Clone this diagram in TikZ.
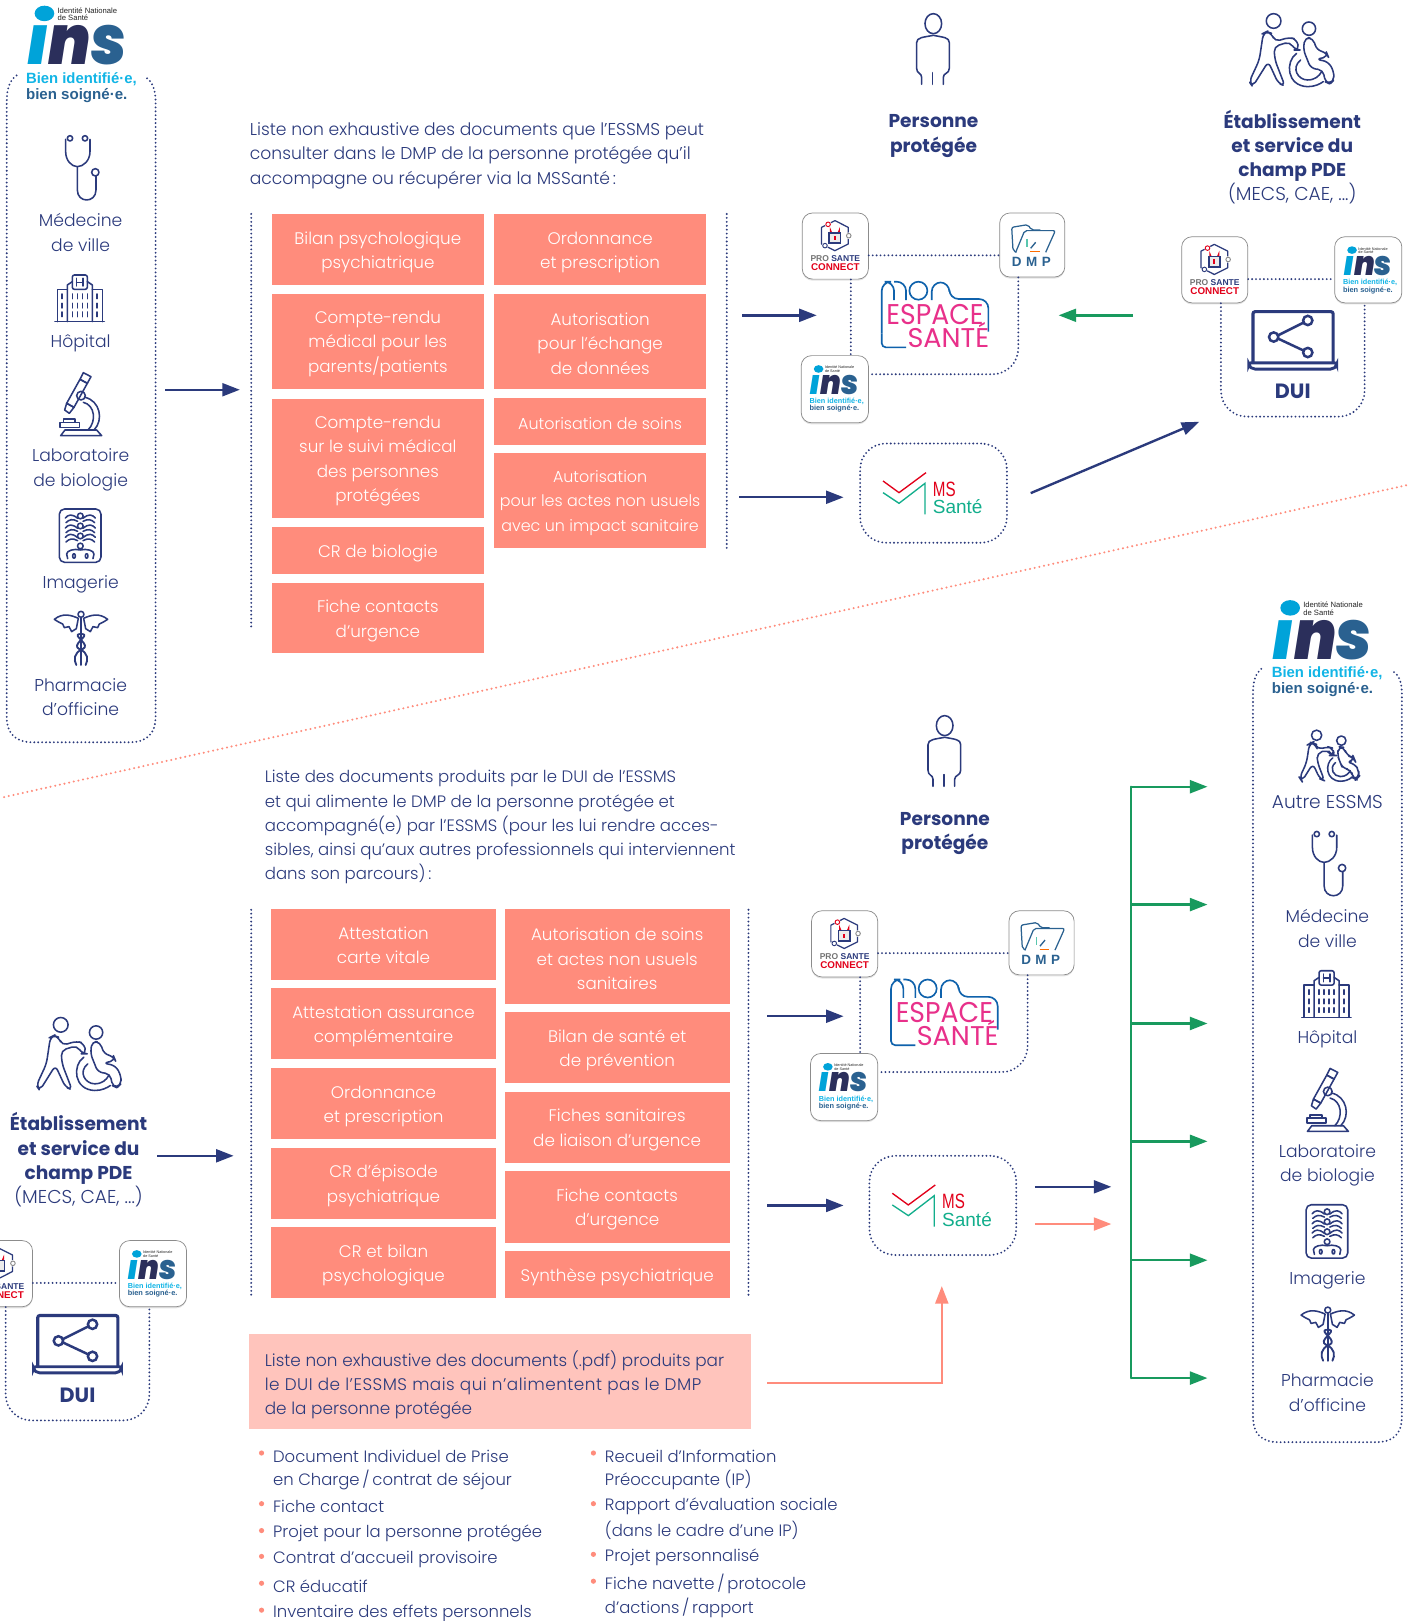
\documentclass[tikz,border=0pt]{standalone}
\usepackage{fontspec}
\setmainfont{Poppins}[UprightFont={* Light},BoldFont={* Bold},ItalicFont={* Light Italic},BoldItalicFont={* Bold Italic}]
\newfontfamily\libsans{Liberation Sans}
\newfontfamily\popreg{Poppins}
\newfontfamily\insf{Poppins}[UprightFont={* Black Italic}]
\usetikzlibrary{arrows.meta,shadows,calc}
\definecolor{navy}{HTML}{2B3A7C}
\definecolor{salmon}{HTML}{FF8C7C}
\definecolor{blush}{HTML}{FFC4BC}
\definecolor{vert}{HTML}{189A5E}
\definecolor{inscyan}{HTML}{00A3D9}
\definecolor{insbright}{HTML}{12B5E6}
\definecolor{insnavy}{HTML}{2B2F5B}
\definecolor{insblue}{HTML}{2A6190}
\definecolor{msred}{HTML}{E2001A}
\definecolor{msteal}{HTML}{12AE8C}
\definecolor{mespink}{HTML}{E8308A}
\definecolor{mesblue}{HTML}{0F62AC}
\newcommand\bodyf{\fontsize{16.6}{23.5}\selectfont}
\newcommand\boxf{\fontsize{16.2}{23.5}\selectfont}
\newcommand\boxsmall{\fontsize{15.4}{23.5}\selectfont}
\newcommand\listf{\fontsize{15.9}{23.5}\selectfont}
\newcommand\widef{\fontsize{18}{23.5}\selectfont}
\tikzset{
  dotline/.style={navy,line width=2pt,line cap=round,dash pattern=on 0pt off 3.8pt},
  reddots/.style={salmon,line width=2.2pt,line cap=round,dash pattern=on 0pt off 4.6pt},
  icon/.style={navy,line width=1.5pt,line join=round,line cap=round},
  txt/.style={inner sep=0pt,text=navy,font=\bodyf,yshift=-2.5pt},
  ctxt/.style={txt,align=center},
  ltxt/.style={txt,align=left,anchor=west},
  listtxt/.style={ltxt,font=\listf,yshift=1.2pt},
  btxt/.style={inner sep=0pt,text=navy,align=center,font=\fontsize{18}{23.5}\selectfont\bfseries,yshift=-2.5pt},
  docbox/.style={fill=salmon,inner sep=0pt},
  doctxt/.style={text=white,align=center,inner sep=0pt,font=\boxf,yshift=-2.5pt},
  card/.style={draw=black!45,line width=.7pt,fill=white,rounded corners=10pt,inner sep=0pt,minimum width=64pt,minimum height=64pt,drop shadow={shadow xshift=0pt,shadow yshift=-1.5pt,opacity=.22}},
  bluearrow/.style={navy,line width=2.3pt,-{Triangle[length=17pt,width=12.5pt]}},
  greenarrow/.style={vert,line width=2.3pt,-{Triangle[length=17pt,width=12.5pt]}},
  salmonarrow/.style={salmon,line width=2.3pt,-{Triangle[length=17pt,width=12.5pt]}},
  stetho/.pic={\begin{scope}[scale=.3224,icon]
    \draw (210,415) circle (8) (255,415) circle (8) (286,517) circle (11);
    \draw (197,418) -- (197,455) .. controls (197,482) and (215,500) .. (232,500) .. controls (250,500) and (270,482) .. (270,455) -- (270,418);
    \draw (232,500) -- (232,570) .. controls (232,610) and (288,610) .. (288,570) -- (288,528);
  \end{scope}},
  hosp/.pic={\begin{scope}[scale=.3224,icon]
    \draw[rounded corners=2pt] (217,825) rectangle (262,868);
    \draw (202,965) -- (202,855) -- (217,845) (262,845) -- (277,855) -- (277,965);
    \draw (202,868) -- (172,868) -- (172,965) (277,868) -- (307,868) -- (307,965);
    \draw (165,965) -- (313,965);
    \draw (230,835) -- (230,858) (249,835) -- (249,858) (230,847) -- (249,847);
    \foreach \yy in {882,910,936} {\foreach \xx in {186,217,232,247,262,291} {\draw (\xx,\yy) -- (\xx,\yy+14);}}
  \end{scope}},
  micro/.pic={\begin{scope}[scale=.3224,icon]
    \draw (250,8) -- (273,20) -- (262,40) -- (240,28) -- cycle;
    \draw (240,28) -- (262,40) -- (222,112) -- (200,100) -- cycle;
    \draw (200,100) -- (222,112) -- (208,130) -- (194,120) -- cycle;
    \draw (243,77) circle (13);
    \draw (255,82) .. controls (300,92) and (312,150) .. (282,180);
    \draw (250,97) .. controls (285,105) and (290,155) .. (264,180);
    \draw (180,157) rectangle (238,172) (190,147) rectangle (225,157);
    \draw (182,197) -- (195,180) -- (290,180) -- (305,197) -- cycle;
  \end{scope}},
  xray/.pic={\begin{scope}[scale=.3224,icon]
    \draw[rounded corners=5pt] (178,417) rectangle (303,577);
    \foreach \yy in {438,468,498,528} {\draw (241,\yy) circle (8.5);}
    \foreach \yy in {452,482,510} {
      \draw (233,\yy-7) .. controls (215,\yy-22) and (205,\yy-18) .. (196,\yy-8);
      \draw (249,\yy-7) .. controls (267,\yy-22) and (277,\yy-18) .. (286,\yy-8);
      \draw (233,\yy+2) .. controls (218,\yy-6) and (208,\yy-4) .. (198,\yy+6);
      \draw (249,\yy+2) .. controls (264,\yy-6) and (274,\yy-4) .. (284,\yy+6);}
    \draw (203,566) -- (200,552) .. controls (200,542) and (222,535) .. (241,540) .. controls (260,535) and (282,542) .. (282,552) -- (279,566);
    \draw (222,558) ellipse (4 and 7) (260,558) ellipse (4 and 7);
  \end{scope}},
  cadu/.pic={\begin{scope}[scale=.3224,icon]
    \draw (243,733) circle (9);
    \draw[line width=2pt] (243,743) -- (243,885);
    \foreach \s in {1,-1} {
      \draw ({243+\s*8},745) .. controls ({243+\s*30},735) and ({243+\s*55},728) .. ({243+\s*80},748)
        .. controls ({243+\s*70},755) and ({243+\s*60},760) .. ({243+\s*55},762) -- ({243+\s*50},773) -- ({243+\s*36},770) -- ({243+\s*28},785) -- ({243+\s*14},776) -- ({243+\s*8},745);
      \draw[line width=1.8pt] ({243+\s*4},792) .. controls ({243+\s*30},795) and ({243-\s*34},825) .. ({243-\s*4},838) .. controls ({243+\s*22},848) and ({243+\s*22},870) .. ({243+\s*14},885);
    }
  \end{scope}},
  person/.pic={\begin{scope}[scale=.3224,icon]
    \draw (160,71) ellipse (25 and 30);
    \draw (125,253) -- (125,232) .. controls (125,218) and (110,222) .. (110,205) -- (110,128) .. controls (110,112) and (130,112) .. (160,106) .. controls (190,112) and (208,112) .. (208,128) -- (208,205) .. controls (208,222) and (190,218) .. (190,232) -- (190,253);
    \draw (158,218) -- (158,253);
  \end{scope}},
  carer/.pic={\begin{scope}[icon]
    \draw (1181,63) circle (22) (1287,86) circle (20);
    \draw[rounded corners=5pt] (1160,95) -- (1150,100) -- (1138,180) -- (1108,245) -- (1118,260) -- (1165,185) -- (1195,250) -- (1215,258) -- (1185,180) -- (1182,140) -- (1230,125) -- (1245,150) -- (1258,150) -- (1250,118) -- (1228,112) -- (1185,125) -- (1175,100) -- cycle;
    \draw[rounded corners=5pt] (1275,112) -- (1270,150) -- (1282,178) -- (1292,205) -- (1330,210) -- (1335,245) -- (1350,252) -- (1362,240) -- (1362,215) -- (1345,185) -- (1308,178) -- (1345,170) -- (1340,158) -- (1310,150) -- (1300,115) -- cycle;
    \draw (1250,160) .. controls (1215,185) and (1220,258) .. (1283,260) .. controls (1305,260) and (1320,252) .. (1330,245);
    \draw (1262,180) .. controls (1232,205) and (1255,240) .. (1283,240) .. controls (1305,240) and (1318,228) .. (1325,215);
  \end{scope}},
  inslogo/.pic={
    \fill[inscyan] (18,8) ellipse (9.5 and 7.5);
    \node[inner sep=0pt,anchor=west,align=left,transform shape,text=black!85,font=\libsans\fontsize{7.4}{7.2}\selectfont] (natl) at (30.5,8.8) {Identité Nationale\\de Santé};
    \node[inner sep=0pt,anchor=north west,transform shape] (ins) at (0,19.5) {\resizebox{97pt}{38pt}{\insf\textcolor{inscyan}{ı}\textcolor{insnavy}{n}\textcolor{insblue}{s}}};
    \node[inner sep=0pt,anchor=west,transform shape,text=insbright] (l1) at (0,71.5) {\resizebox{107pt}{!}{\libsans\bfseries Bien identifié·e,}};
    \node[inner sep=0pt,anchor=west,transform shape,text=insblue] (l2) at (0,87) {\resizebox{98pt}{!}{\libsans\bfseries bien soigné·e.}};
  },
  psclogo/.pic={
    \draw[navy,line width=1.2pt,line join=round] (31.6,7.4) -- (44.5,13.9) -- (44.5,30) -- (31.6,36.5) -- (18.7,30) -- (18.7,13.9) -- cycle;
    \fill[white] (25,11) circle (3.2) (45,22) circle (3.2) (22,31.6) circle (3.2);
    \draw[msred,line width=.9pt] (25,11) circle (2.2);
    \draw[black!45,line width=.9pt] (45,22) circle (2.2);
    \draw[navy,line width=.9pt] (22,31.6) circle (2.2);
    \draw[msred,line width=1.4pt] (27.4,18.5) -- (27.4,17) arc[start angle=180,end angle=0,radius=4.2] -- (35.8,18.5);
    \draw[navy,line width=1.6pt,fill=black!8] (26.2,19.2) rectangle (37,29.2);
    \fill[msred] (30.8,22) rectangle (32.4,26.5);
    \node[inner sep=0pt,transform shape] (t1) at (32,44.5) {\resizebox{48pt}{!}{\libsans\bfseries\textcolor{black!55}{PRO }\textcolor{navy}{SANTE}}};
    \node[inner sep=0pt,transform shape] (t2) at (32,52.3) {\resizebox{47pt}{!}{\libsans\bfseries\textcolor{msred}{CONNECT}}};
  },
  dmplogo/.pic={\begin{scope}[scale=.3224,xshift=-600,yshift=37]
    \draw[insblue,line width=1.2pt,rounded corners=2pt] (650,155) -- (640,150) -- (636,80) -- (685,72) -- (695,88) -- (722,88);
    \draw[insblue,line width=1.2pt,rounded corners=2pt] (648,155) -- (675,90) -- (767,90) -- (738,155);
    \draw[msteal!70,line width=1.3pt] (682,115) -- (682,140);
    \draw[insblue,line width=1.3pt] (693,143) -- (708,125);
    \draw[orange!85!red,line width=1.5pt] (692,153) -- (720,153);
    \node[inner sep=0pt,text=insblue] (dm) at (695,183) {\libsans\bfseries\fontsize{13}{13}\selectfont D\,\,M\,\,P};
  \end{scope}},
  meslogo/.pic={\begin{scope}[scale=.3224]
    \draw[mesblue,line width=1.6pt,rounded corners=4pt] (318,442) -- (245,442) -- (245,400);
    \draw[mesblue,line width=1.6pt,rounded corners=9pt] (245,400) -- (245,245) -- (282,245) -- (282,300);
    \draw[mesblue,line width=1.6pt,rounded corners=9pt] (282,245) -- (318,245) -- (318,300);
    \draw[mesblue,line width=1.6pt] (355,272) ellipse (27 and 27);
    \draw[mesblue,line width=1.6pt,rounded corners=9pt] (395,300) -- (395,247) -- (448,247) -- (448,297) -- (565,297) -- (565,395);
    \node[inner sep=0pt,text=mespink] (es) at (405,344) {\resizebox{94pt}{19.5pt}{\popreg ESPACE}};
    \node[inner sep=0pt,anchor=south,text=mespink] (sa) at (445,443) {\resizebox{79pt}{!}{\popreg SANTÉ}};
  \end{scope}},
  mslogo/.pic={\begin{scope}[scale=.3224]
    \draw[msred,line width=1.3pt] (457,190) -- (505,225) -- (586,165);
    \draw[msteal,line width=1.3pt] (457,225) -- (505,257) -- (583,197) -- (583,290);
    \node[inner sep=0pt,anchor=south west,text=msred] (ms) at (606,238) {\resizebox{22pt}{14pt}{\libsans MS}};
    \node[inner sep=0pt,anchor=south west,text=msteal] (sn) at (606,290) {\resizebox{48pt}{!}{\libsans Santé}};
  \end{scope}},
  lapdui/.pic={
    \draw[navy,line width=3pt,rounded corners=2pt] (1212,352) -- (1212,301.5) -- (1289.5,301.5) -- (1289.5,352);
    \draw[navy,line width=2.8pt,rounded corners=2pt] (1208,351) -- (1293,351) -- (1293,354) -- (1289,357) -- (1212,357) -- (1208,354) -- cycle;
    \draw[navy,line width=2.4pt] (1233,326) -- (1265,310) (1233,326) -- (1265,341);
    \draw[navy,line width=2.4pt,fill=white] (1232,326) circle (4.5) (1265,310) circle (4.5) (1265,341) circle (4.5);
    \node[inner sep=0pt,text=navy,font=\fontsize{20}{22}\selectfont\bfseries] (dl) at (1250.5,379) {DUI};
  },
}
% --- helpers
\newcommand\dbox[6]{\node[docbox,minimum width={(#4-#2)*1pt},minimum height={(#5-#3)*1pt}] (#1) at ({(#2+#4)/2},{(#3+#5)/2}) {}; \node[doctxt] (#1t) at (#1) {#6};}
\newcommand\arrw[6]{\coordinate (#1s) at (#3,#4); \coordinate (#1e) at (#5,#6); \draw[#2] (#1s) -- (#1e);}
\newcommand\bul[4]{\fill[salmon] (#2-11,#3-1.5) circle (2.5); \node[listtxt] (#1) at (#2,#3) {#4};}
\newcommand\espacegroup[1]{%
  \node[card] (psc#1) at (808,238) {};
  \node[card,minimum width=63pt,minimum height=62pt] (dmp#1) at (998.5,237) {};
  \node[card,minimum width=65pt,minimum height=65pt] (ins#1) at (807.5,376.5) {};
  \pic (pp#1) at (776,206) {psclogo};
  \pic (pd#1) at (967,206) {dmplogo};
  \pic[scale=.49] (pi#1) at (783,353) {inslogo};
  \pic (pm#1) at (773.9,193.5) {meslogo};
  \draw[dotline] ([yshift=-9pt]psc#1.east) -- ([yshift=-10pt]dmp#1.west);
  \draw[dotline] ([xshift=15pt]psc#1.south) -- ([xshift=15.5pt]ins#1.north);
  \draw[dotline,rounded corners=25pt] ([xshift=-13.5pt]dmp#1.south) -- (985,362) -- ([yshift=14.5pt]ins#1.east);
}
\newcommand\duigroup[1]{%
  \node[card] (pscd#1) at (1175,261) {};
  \node[card,minimum width=65pt] (insd#1) at (1323.5,261) {};
  \pic (ppd#1) at (1143,229) {psclogo};
  \pic[scale=.49] (pid#1) at (1299,238) {inslogo};
  \pic (pl#1) at (0,0) {lapdui};
  \draw[dotline] ([yshift=-9pt]pscd#1.east) -- ([yshift=-9pt]insd#1.west);
  \draw[dotline,rounded corners=25pt] ([xshift=6pt]pscd#1.south) -- (1181,403) -- (1320,403) -- ([xshift=-3.5pt]insd#1.south);
}
\newcommand\careicons[1]{%
  \pic (st#1) at (0,0) {stetho};
  \node[ctxt] (med#1) at (78,222.5) {Médecine\\de ville};
  \pic (ho#1) at (0,0) {hosp};
  \node[ctxt] (hop#1) at (78,330) {Hôpital};
  \pic (mi#1) at (0,357.9) {micro};
  \node[ctxt] (lab#1) at (78,452) {Laboratoire\\de biologie};
  \pic (xr#1) at (0,357.9) {xray};
  \node[ctxt] (ima#1) at (78,563) {Imagerie};
  \pic (ca#1) at (0,357.9) {cadu};
  \node[ctxt] (pha#1) at (78,671.5) {Pharmacie\\d’officine};
}
\begin{document}
\begin{tikzpicture}[x=1pt,y=-1pt]
\clip (0,0) rectangle (1366.8,1568);
\fill[white] (0,0) rectangle (1366.8,1568);
% diagonal
\coordinate (dgA) at (4,771); \coordinate (dgB) at (1362,469);
\draw[reddots] (dgA) -- (dgB);
% left panel
\draw[dotline] (16,73) .. controls (10,77) and (6.5,85) .. (6.5,98) -- (6.5,693) .. controls (6.5,710) and (15,718) .. (32,718) -- (125,718) .. controls (142,718) and (150.5,710) .. (150.5,693) -- (150.5,98) .. controls (150.5,86) and (147,79) .. (141.5,75);
\pic (insL) at (25,5) {inslogo};
\careicons{L}
% right panel
\draw[dotline] (1220,647) .. controls (1215,651) and (1212,658) .. (1212,670) -- (1212,1370) .. controls (1212,1387) and (1220,1395) .. (1237,1395) -- (1331,1395) .. controls (1348,1395) and (1356,1387) .. (1356,1370) -- (1356,670) .. controls (1356,658) and (1352,652) .. (1347,649);
\pic (insR) at (1230,580) {inslogo};
\pic[scale=.2257] (carR) at (1007,697) {carer};
\node[ctxt,font=\widef] (autre) at (1284,773) {Autre ESSMS};
\begin{scope}[shift={(1206,673)}]
\careicons{R}
\end{scope}
% top section
\node[ltxt] (intro1) at (241.5,148) {Liste non exhaustive des documents que l’ESSMS peut\\consulter dans le DMP de la personne protégée qu’il\\accompagne ou récupérer via la MSSanté\,:};
\coordinate (v1a) at (243,207); \coordinate (v1b) at (243,607); \draw[dotline] (v1a) -- (v1b);
\coordinate (v2a) at (703,207); \coordinate (v2b) at (703,530); \draw[dotline] (v2a) -- (v2b);
\dbox{a1}{263}{207}{468}{276}{Bilan psychologique\\psychiatrique}
\dbox{a2}{263}{284}{468}{376}{Compte-rendu\\médical pour les\\parents/patients}
\dbox{a3}{263}{386}{468}{501}{Compte-rendu\\sur le suivi médical\\des personnes\\protégées}
\dbox{a4}{263}{510}{468}{555}{CR de biologie}
\dbox{a5}{263}{564}{468}{632}{Fiche contacts\\d’urgence}
\dbox{b1}{478}{207}{683}{276}{Ordonnance\\et prescription}
\dbox{b2}{478}{284}{683}{376}{Autorisation\\pour l’échange\\de données}
\begin{scope}[doctxt/.append style={font=\boxsmall}]
\dbox{b3}{478}{385}{683}{430}{Autorisation de soins}
\dbox{b4}{478}{438}{683}{530}{Autorisation\\pour les actes non usuels\\avec un impact sanitaire}
\end{scope}
\pic (per1) at (851.2,0) {person};
\node[btxt] (pp1) at (903,129) {Personne\\protégée};
\pic[scale=.3224] (car1) at (851.2,0) {carer};
\node[btxt] (et1) at (1250,138.5) {Établissement\\et service du\\champ PDE};
\node[ctxt,font=\widef] (me1) at (1250,185) {(MECS, CAE, ...)};
\espacegroup{T}
\duigroup{T}
\node[dotline,draw,rounded corners=25pt,minimum width=142pt,minimum height=96pt,inner sep=0pt] (msT) at (903,477) {};
\pic (mlT) at (706.8,404) {mslogo};
\arrw{t1}{bluearrow}{160}{377}{232}{377}
\arrw{t2}{bluearrow}{718}{305}{790}{305}
\arrw{t3}{greenarrow}{1096}{305}{1024}{305}
\arrw{t4}{bluearrow}{715}{481}{816}{481}
\arrw{t5}{bluearrow}{997}{477}{1160}{408}
% bottom section
\node[ltxt,font=\fontsize{16}{23.3}\selectfont] (intro2) at (256,797.5) {Liste des documents produits par le DUI de l’ESSMS\\et qui alimente le DMP de la personne protégée et\\accompagné(e) par l’ESSMS (pour les lui rendre acces-\\sibles, ainsi qu’aux autres professionnels qui interviennent\\dans son parcours)\,:};
\coordinate (v3a) at (243,880); \coordinate (v3b) at (243,1256); \draw[dotline] (v3a) -- (v3b);
\coordinate (v4a) at (724,880); \coordinate (v4b) at (724,1256); \draw[dotline] (v4a) -- (v4b);
\begin{scope}[doctxt/.append style={yshift=1.5pt}]
\dbox{c1}{262}{879}{480}{948}{Attestation\\carte vitale}
\end{scope}
\dbox{c2}{262}{956}{480}{1024}{Attestation assurance\\complémentaire}
\dbox{c3}{262}{1033}{480}{1102}{Ordonnance\\et prescription}
\dbox{c4}{262}{1110}{480}{1179}{CR d’épisode\\psychiatrique}
\dbox{c5}{262}{1187}{480}{1256}{CR et bilan\\psychologique}
\dbox{d1}{488}{879}{706}{971}{Autorisation de soins\\et actes non usuels\\sanitaires}
\dbox{d2}{488}{979}{706}{1048}{Bilan de santé et\\de prévention}
\dbox{d3}{488}{1056}{706}{1125}{Fiches sanitaires\\de liaison d’urgence}
\dbox{d4}{488}{1133}{706}{1202}{Fiche contacts\\d’urgence}
\dbox{d5}{488}{1210}{706}{1256}{Synthèse psychiatrique}
\node[fill=blush,minimum width=485pt,minimum height=92pt,inner sep=0pt] (pk) at (483.5,1336) {};
\node[ltxt,font=\fontsize{16.3}{23.5}\selectfont] (pkt) at (256,1337) {Liste non exhaustive des documents (.pdf) produits par\\{\addfontfeature{LetterSpace=3}le DUI de l’ESSMS mais qui n’alimentent pas le DMP}\\de la personne protégée};
\bul{l1}{264}{1407}{Document Individuel de Prise}
\node[listtxt] (l1b) at (264,1430) {en Charge\,/\,contrat de séjour};
\bul{l2}{264}{1456}{Fiche contact}
\bul{l3}{264}{1482}{Projet pour la personne protégée}
\bul{l4}{264}{1507}{Contrat d’accueil provisoire}
\bul{l5}{264}{1533}{CR éducatif}
\bul{l6}{264}{1559}{Inventaire des effets personnels}
\bul{r1}{585}{1407}{Recueil d’Information}
\node[listtxt] (r1b) at (585,1430) {Préoccupante (IP)};
\bul{r2}{585}{1456}{Rapport d’évaluation sociale}
\node[listtxt] (r2b) at (585,1479) {(dans le cadre d’une IP)};
\bul{r3}{585}{1505}{Projet personnalisé}
\bul{r4}{585}{1531}{Fiche navette\,/\,protocole}
\node[listtxt] (r4b) at (585,1554) {d’actions\,/\,rapport};
\pic (per2) at (862.2,679) {person};
\node[btxt] (pp2) at (914,804) {Personne\\protégée};
\pic[scale=.3224] (car2) at (-322,971) {carer};
\node[btxt] (et2) at (76,1108.5) {Établissement\\et service du\\champ PDE};
\node[ctxt,font=\widef] (me2) at (76,1155) {(MECS, CAE, ...)};
\begin{scope}[shift={(9,675)}]
\espacegroup{B}
\end{scope}
\begin{scope}[shift={(-1175.5,971)}]
\duigroup{B}
\end{scope}
\node[dotline,draw,rounded corners=25pt,minimum width=142pt,minimum height=96pt,inner sep=0pt] (msB) at (912,1166) {};
\pic (mlB) at (715.8,1093) {mslogo};
\arrw{u1}{bluearrow}{152}{1118}{226}{1118}
\arrw{u2}{bluearrow}{742}{983}{816}{983}
\arrw{u3}{bluearrow}{742}{1166}{816}{1166}
\arrw{u4}{bluearrow}{1001}{1148}{1075}{1148}
\arrw{u5}{salmonarrow}{1001}{1184}{1075}{1184}
\coordinate (u6s) at (742,1338); \coordinate (u6m) at (911,1338); \coordinate (u6e) at (911,1244);
\draw[salmonarrow] (u6s) -- (u6m) -- (u6e);
\coordinate (trT) at (1094,761); \coordinate (trB) at (1094,1333);
\draw[vert,line width=2.3pt,line cap=round] (trT) -- (trB);
\foreach \yy/\nn in {761/a,875/b,990/c,1104/d,1219/e,1333/f} {
  \coordinate (gs\nn) at (1094,\yy); \coordinate (ge\nn) at (1168,\yy);
  \draw[greenarrow] (gs\nn) -- (ge\nn);
}
\end{tikzpicture}
\end{document}
